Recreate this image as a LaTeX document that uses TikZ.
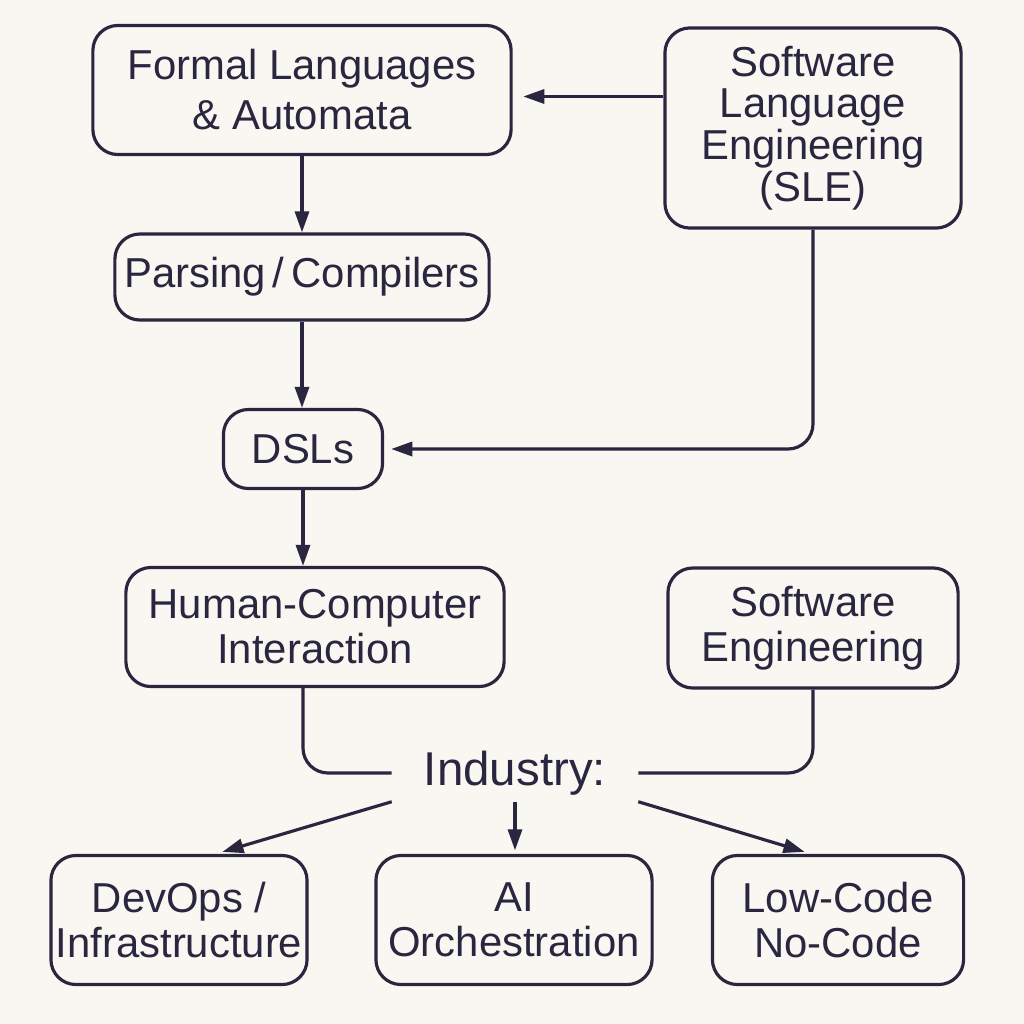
\documentclass[tikz,border=0pt]{standalone}
\usepackage{fontspec}
\setmainfont{Liberation Sans}
\usetikzlibrary{arrows.meta}
\definecolor{paper}{HTML}{F9F7F1}
\definecolor{ink}{HTML}{2B2640}
\begin{document}
\begin{tikzpicture}[x=0.01cm,y=-0.01cm,
    box/.style={draw=ink,line width=0.9pt,rounded corners=0.25cm,align=center,
      font=\fontsize{11.9}{12.8}\selectfont,text=ink,inner sep=0pt},
    line/.style={draw=ink,line width=0.9pt},
    arr/.style={line,-{Triangle[length=6pt,width=4pt]}}]
      \useasboundingbox[fill=paper] (0,0) rectangle (1024,1024);
      \def \Nodes {
        formal/302/90/4.18/1.29/{Formal Languages\\[1.4pt]\& Automata},
        sle/813/128/2.96/2.00/{Software\\[-0.9pt]Language\\[-0.9pt]Engineering\\[-0.9pt](SLE)},
        parsing/302/277/3.74/0.86/{Parsing\,/\,Compilers},
        dsl/303/449/1.59/0.79/{DSLs},
        hci/315/627/3.78/1.19/{Human-Computer\\Interaction},
        se/813/628/2.90/1.20/{Software\\Engineering},
        devops/179/920/2.56/1.29/{DevOps /\\Infrastructure},
        ai/514/920/2.76/1.29/{AI\\Orchestration},
        lowcode/838/920/2.51/1.29/{Low-Code\\No-Code}}
      \def \Edges {
        formal/parsing,
        parsing/dsl,
        dsl/hci}

      \foreach \id / \x / \y / \w / \h / \txt in \Nodes {
        \node[box,minimum width=\w cm,minimum height=\h cm] (\id) at (\x, \y) {\txt};
      }
      \node[text=ink,font=\fontsize{13.5}{14}\selectfont,inner sep=0pt,
        minimum width=2.45cm,minimum height=0.56cm] (industry) at (515, 773) {Industry:};

      \foreach \a / \b in \Edges {
        \path[arr] (\a.south) -- (\a.south |- \b.north);
      }
      \path[arr,shorten >=3pt] ([yshift=-0.065cm]sle.west |- formal.east) -- ([yshift=-0.065cm]formal.east);
      \path[arr,rounded corners=0.25cm,shorten >=2pt] (sle.south) |- (dsl.east);
      % feeding into industry
      \path[line,rounded corners=0.25cm] (hci.south -| dsl.south) |- (industry.west);
      \path[line,rounded corners=0.25cm] (se.south) |- (industry.east);
      \path[arr,shorten >=2pt] (industry.south west) -- (devops.61);
      \path[arr,shorten >=1pt] (industry.south) -- (industry.south |- ai.north);
      \path[arr,shorten >=2pt] (industry.south east) -- (lowcode.112);
    \end{tikzpicture}
\end{document}
